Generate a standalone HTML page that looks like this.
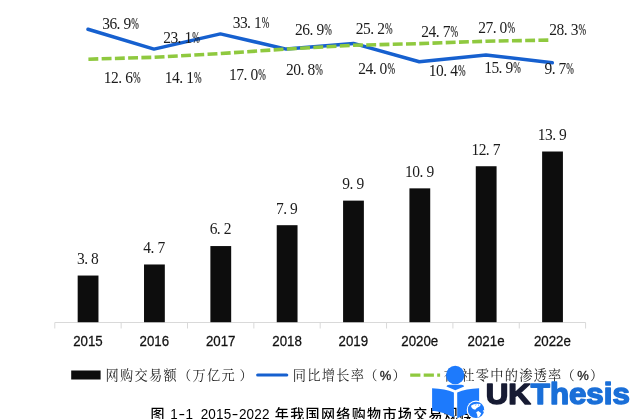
<!DOCTYPE html>
<html lang="zh-CN">
<head>
<meta charset="utf-8">
<title>图 1-1 2015-2022 年我国网络购物市场交易规模</title>
<style>
html,body{margin:0;padding:0;background:#fff;}
body{width:642px;height:419px;overflow:hidden;}
svg{display:block;}
.dl text{font-family:"Liberation Serif", "Noto Serif CJK SC", serif;font-size:15.5px;fill:#1c1c1c;}
.ax text{font-family:"Liberation Sans", "Noto Sans CJK SC", sans-serif;font-size:13.3px;fill:#111;stroke:#111;stroke-width:.25px;text-anchor:middle;}
.lg text{font-family:"Liberation Serif", "Noto Serif CJK SC", serif;font-size:13.2px;letter-spacing:1.3px;fill:#1c1c1c;}
.cap{font-family:"Liberation Sans","Noto Sans CJK SC",sans-serif;font-size:14px;font-weight:500;fill:#000;}
.cap .hw{font-size:14.8px;font-weight:400;}
</style>
</head>
<body>
<svg width="642" height="419" viewBox="0 0 642 419">
<rect width="642" height="419" fill="#fff"/>

<g stroke="#d9d9d9" stroke-width="1" fill="none">
<path d="M54.80 322.5H585.60"/>
<path d="M54.80 322.5v6M121.15 322.5v6M187.50 322.5v6M253.85 322.5v6M320.20 322.5v6M386.55 322.5v6M452.90 322.5v6M519.25 322.5v6M585.60 322.5v6"/>
</g>
<g fill="#0d0d0d">
<rect x="77.67" y="275.54" width="20.8" height="46.66"/>
<rect x="144.02" y="264.48" width="20.8" height="57.72"/>
<rect x="210.38" y="246.06" width="20.8" height="76.14"/>
<rect x="276.73" y="225.19" width="20.8" height="97.01"/>
<rect x="343.08" y="200.63" width="20.8" height="121.57"/>
<rect x="409.43" y="188.35" width="20.8" height="133.85"/>
<rect x="475.78" y="166.24" width="20.8" height="155.96"/>
<rect x="542.12" y="151.51" width="20.8" height="170.69"/>
</g>
<g class="dl">
<text transform="translate(0 263.8) scale(1 1.02)" x="76.95 84.15 91.05" y="0">3.8</text>
<text transform="translate(0 252.8) scale(1 1.02)" x="143.30 150.50 157.40" y="0">4.7</text>
<text transform="translate(0 234.4) scale(1 1.02)" x="209.65 216.85 223.75" y="0">6.2</text>
<text transform="translate(0 213.5) scale(1 1.02)" x="276.00 283.20 290.10" y="0">7.9</text>
<text transform="translate(0 188.9) scale(1 1.02)" x="342.35 349.55 356.45" y="0">9.9</text>
<text transform="translate(0 176.6) scale(1 1.02)" x="405.07 412.32 419.52 426.43" y="0">10.9</text>
<text transform="translate(0 154.5) scale(1 1.02)" x="471.43 478.68 485.88 492.78" y="0">12.7</text>
<text transform="translate(0 139.8) scale(1 1.02)" x="537.77 545.02 552.23 559.12" y="0">13.9</text>
</g>
<g class="ax">
<text transform="translate(0 346.1) scale(1 1.05)" x="87.97" y="0">2015</text>
<text transform="translate(0 346.1) scale(1 1.05)" x="154.32" y="0">2016</text>
<text transform="translate(0 346.1) scale(1 1.05)" x="220.68" y="0">2017</text>
<text transform="translate(0 346.1) scale(1 1.05)" x="287.02" y="0">2018</text>
<text transform="translate(0 346.1) scale(1 1.05)" x="353.38" y="0">2019</text>
<text transform="translate(0 346.1) scale(1 1.05)" x="419.72" y="0">2020e</text>
<text transform="translate(0 346.1) scale(1 1.05)" x="486.07" y="0">2021e</text>
<text transform="translate(0 346.1) scale(1 1.05)" x="552.42" y="0">2022e</text>
</g>
<polyline points="88.0,29.2 154.0,49.1 220.4,33.9 286.3,49.1 353.5,43.4 419.3,61.8 486.0,54.9 552.3,62.8" fill="none" stroke="#1660cf" stroke-width="3.5" stroke-linejoin="round" stroke-linecap="round"/>
<polyline points="88.4,59.2 154.0,57.3 220.4,53.6 286.3,49.0 353.5,45.3 419.3,43.6 486.0,41.2 551.2,40.1" fill="none" stroke="#8fc93f" stroke-width="3.6" stroke-dasharray="9.9 3.35" stroke-linejoin="round"/>
<g class="dl">
<text transform="translate(0 29.4) scale(1 1.02)" x="102.15 109.40 116.60 123.50" y="0">36.9<tspan x="131.30" textLength="7.6" lengthAdjust="spacingAndGlyphs" stroke="#1c1c1c" stroke-width=".2">%</tspan></text>
<text transform="translate(0 42.6) scale(1 1.02)" x="163.15 170.40 177.60 184.50" y="0">23.1<tspan x="192.30" textLength="7.6" lengthAdjust="spacingAndGlyphs" stroke="#1c1c1c" stroke-width=".2">%</tspan></text>
<text transform="translate(0 27.9) scale(1 1.02)" x="232.65 239.90 247.10 254.00" y="0">33.1<tspan x="261.80" textLength="7.6" lengthAdjust="spacingAndGlyphs" stroke="#1c1c1c" stroke-width=".2">%</tspan></text>
<text transform="translate(0 35.4) scale(1 1.02)" x="295.05 302.30 309.50 316.40" y="0">26.9<tspan x="324.20" textLength="7.6" lengthAdjust="spacingAndGlyphs" stroke="#1c1c1c" stroke-width=".2">%</tspan></text>
<text transform="translate(0 34.2) scale(1 1.02)" x="355.85 363.10 370.30 377.20" y="0">25.2<tspan x="385.00" textLength="7.6" lengthAdjust="spacingAndGlyphs" stroke="#1c1c1c" stroke-width=".2">%</tspan></text>
<text transform="translate(0 37.4) scale(1 1.02)" x="421.35 428.60 435.80 442.70" y="0">24.7<tspan x="450.50" textLength="7.6" lengthAdjust="spacingAndGlyphs" stroke="#1c1c1c" stroke-width=".2">%</tspan></text>
<text transform="translate(0 33.2) scale(1 1.02)" x="478.25 485.50 492.70 499.60" y="0">27.0<tspan x="507.40" textLength="7.6" lengthAdjust="spacingAndGlyphs" stroke="#1c1c1c" stroke-width=".2">%</tspan></text>
<text transform="translate(0 34.9) scale(1 1.02)" x="549.35 556.60 563.80 570.70" y="0">28.3<tspan x="578.50" textLength="7.6" lengthAdjust="spacingAndGlyphs" stroke="#1c1c1c" stroke-width=".2">%</tspan></text>
<text transform="translate(0 83.0) scale(1 1.02)" x="103.85 111.10 118.30 125.20" y="0">12.6<tspan x="133.00" textLength="7.6" lengthAdjust="spacingAndGlyphs" stroke="#1c1c1c" stroke-width=".2">%</tspan></text>
<text transform="translate(0 83.0) scale(1 1.02)" x="164.85 172.10 179.30 186.20" y="0">14.1<tspan x="194.00" textLength="7.6" lengthAdjust="spacingAndGlyphs" stroke="#1c1c1c" stroke-width=".2">%</tspan></text>
<text transform="translate(0 79.8) scale(1 1.02)" x="229.05 236.30 243.50 250.40" y="0">17.0<tspan x="258.20" textLength="7.6" lengthAdjust="spacingAndGlyphs" stroke="#1c1c1c" stroke-width=".2">%</tspan></text>
<text transform="translate(0 75.3) scale(1 1.02)" x="286.05 293.30 300.50 307.40" y="0">20.8<tspan x="315.20" textLength="7.6" lengthAdjust="spacingAndGlyphs" stroke="#1c1c1c" stroke-width=".2">%</tspan></text>
<text transform="translate(0 73.6) scale(1 1.02)" x="358.25 365.50 372.70 379.60" y="0">24.0<tspan x="387.40" textLength="7.6" lengthAdjust="spacingAndGlyphs" stroke="#1c1c1c" stroke-width=".2">%</tspan></text>
<text transform="translate(0 75.6) scale(1 1.02)" x="428.85 436.10 443.30 450.20" y="0">10.4<tspan x="458.00" textLength="7.6" lengthAdjust="spacingAndGlyphs" stroke="#1c1c1c" stroke-width=".2">%</tspan></text>
<text transform="translate(0 73.1) scale(1 1.02)" x="484.15 491.40 498.60 505.50" y="0">15.9<tspan x="513.30" textLength="7.6" lengthAdjust="spacingAndGlyphs" stroke="#1c1c1c" stroke-width=".2">%</tspan></text>
<text transform="translate(0 74.3) scale(1 1.02)" x="544.45 551.65 558.55" y="0">9.7<tspan x="566.35" textLength="7.6" lengthAdjust="spacingAndGlyphs" stroke="#1c1c1c" stroke-width=".2">%</tspan></text>
</g>
<g class="lg">
<rect x="71.2" y="370.5" width="29.4" height="9" fill="#0d0d0d"/>
<text x="105.5" y="379.9">网购交易额（万亿元<tspan dx="3.6">）</tspan></text>
<path d="M257.7 375H286.7" stroke="#1660cf" stroke-width="3.2" stroke-linecap="round" fill="none"/>
<text x="292.8" y="379.9">同比增长率<tspan dx="-1.1">（</tspan><tspan dx="1.1" stroke="#1c1c1c" stroke-width=".3" font-family='"Liberation Sans",sans-serif' font-size="13">%</tspan><tspan dx="-0.1">）</tspan></text>
<path d="M410.2 375.1H440.1" stroke="#8fc93f" stroke-width="3.2" stroke-dasharray="10.2 3.3" fill="none"/>
<text x="443.6" y="379.9">在<tspan dx="3.1">社</tspan>零中的渗透率<tspan dx="-1.1">（</tspan><tspan dx="1.1" stroke="#1c1c1c" stroke-width=".3" font-family='"Liberation Sans",sans-serif' font-size="13">%</tspan><tspan dx="-0.1">）</tspan></text>
</g>
<text class="cap" y="419.2"><tspan x="150.6">图 </tspan><tspan class="hw" x="170.30" textLength="7.5" lengthAdjust="spacingAndGlyphs">1</tspan><tspan class="hw" x="178.45" textLength="6.6" lengthAdjust="spacingAndGlyphs">-</tspan><tspan class="hw" x="185.60" textLength="7.5" lengthAdjust="spacingAndGlyphs">1</tspan><tspan x="194"> </tspan><tspan class="hw" x="200.70" textLength="7.5" lengthAdjust="spacingAndGlyphs">2</tspan><tspan class="hw" x="208.35" textLength="7.5" lengthAdjust="spacingAndGlyphs">0</tspan><tspan class="hw" x="216.00" textLength="7.5" lengthAdjust="spacingAndGlyphs">1</tspan><tspan class="hw" x="223.65" textLength="7.5" lengthAdjust="spacingAndGlyphs">5</tspan><tspan class="hw" x="231.80" textLength="6.6" lengthAdjust="spacingAndGlyphs">-</tspan><tspan class="hw" x="238.95" textLength="7.5" lengthAdjust="spacingAndGlyphs">2</tspan><tspan class="hw" x="246.60" textLength="7.5" lengthAdjust="spacingAndGlyphs">0</tspan><tspan class="hw" x="254.25" textLength="7.5" lengthAdjust="spacingAndGlyphs">2</tspan><tspan class="hw" x="261.90" textLength="7.5" lengthAdjust="spacingAndGlyphs">2</tspan><tspan x="270 274.80 290.17 305.54 320.91 336.28 351.65 367.02 382.39 397.76 413.13 428.50 443.87 459.24"> 年我国网络购物市场交易规模</tspan></text>
<g>
<circle cx="455.2" cy="375" r="9.2" fill="#1d7afc"/>
<path d="M446.5 386.6q.2-1.8 2.6-1.8h12.4q2.4 0 2.6 1.8l-8.8 3.7z" fill="#1d7afc"/>
<path d="M432.1 388.3Q445 388.6 453.9 392.6V417.6Q443.5 411.8 432.1 410.7z" fill="#1d7afc"/>
<path d="M479.1 388.3Q466 388.6 457.2 392.6V418.4Q467.5 412.2 479.1 411z" fill="#1d7afc"/>
<circle cx="476" cy="409.9" r="9.3" fill="#fff"/>
<circle cx="476" cy="409.9" r="8.2" fill="#1d7afc"/>
<path d="M471 405.8l2.2-1.4 3.2-.6 4.2.3-.4 2-3.4 1.8-1.6 1.9-2.3-.9-1.5-1.7z" fill="#fff"/>
<path d="M476.2 412.3l2.1-1.3 2.9 2.2-1.5 3.1-2 1.5-.6-3.2z" fill="#fff"/>
<path d="M483.1 410.1l.9.4-.2 1.2-.9-.3z" fill="#fff"/>
<path d="M475.2 405.2l1.2-.5M478 404.9l1.1.4" stroke="#1d7afc" stroke-width=".7" fill="none"/>
<text x="485.7" y="404" font-family='"Liberation Sans",sans-serif' font-weight="bold" font-size="29.8" textLength="144.1" lengthAdjust="spacingAndGlyphs" stroke-width="1.5" stroke-linejoin="round"><tspan fill="#171b33" stroke="#171b33">UK</tspan><tspan fill="#1a6fd8" stroke="#1a6fd8">Thesis</tspan></text>
</g>
</svg>
</body>
</html>
